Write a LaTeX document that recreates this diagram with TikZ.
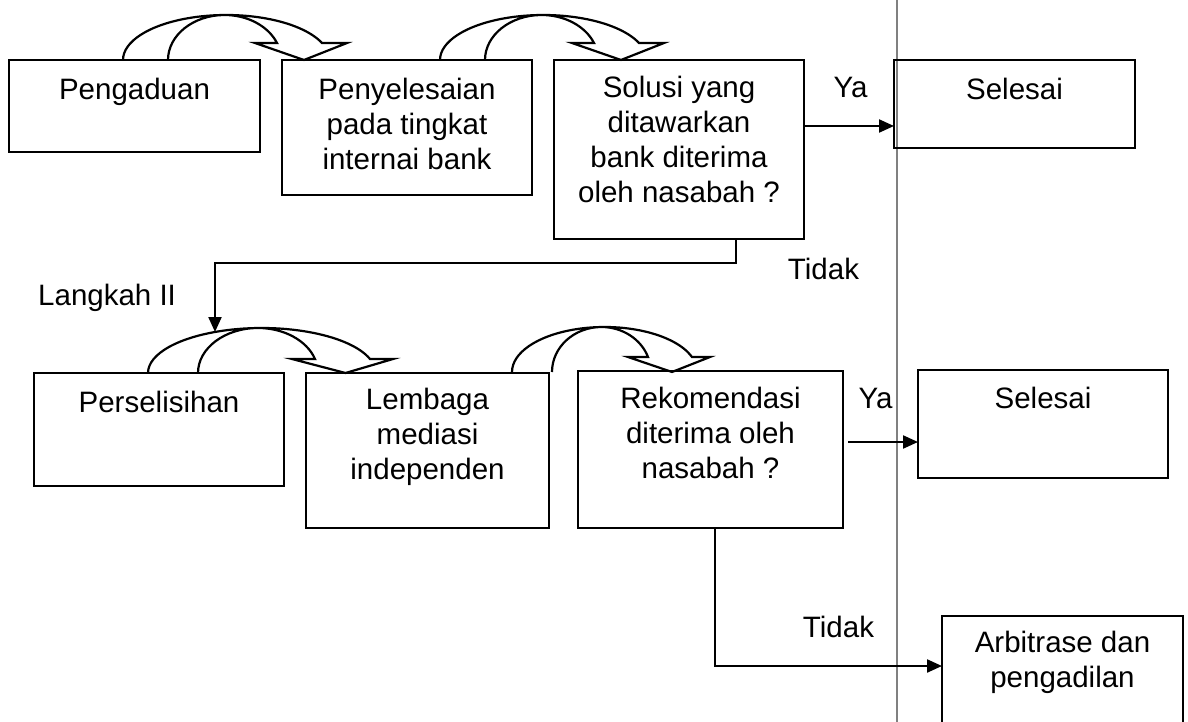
\documentclass[tikz,border=0pt]{standalone}
\usepackage{fontspec}
\setmainfont{Liberation Sans}
\usetikzlibrary{arrows.meta}
\newcommand\bt[4]{\parbox[c][#2pt][t]{#1pt}{\fontsize{29.5}{35}\selectfont\centering\rule{0pt}{#3pt}#4\par}}
% curved block arrow: #1 outer foot, #2 inner foot, #3 inner end, #4 outer end, #5 base y, #6 top y, #7 wing y, #8 left wing, #9 right wing
\newcommand\carrow[9]{%
  \pgfmathsetmacro\cry{#5-#6}%
  \pgfmathsetmacro\cth{asin((#5-#7)/\cry)}%
  \pgfmathsetmacro\crxi{(#3-#2)/(1+cos(\cth))}%
  \pgfmathsetmacro\crxo{(#4-#1)/(1+cos(\cth))}%
  \pgfmathsetmacro\ctip{(#8+#9)/2+3}%
  \draw[carr] (#2,#5) arc[start angle=180, end angle=\cth, x radius=\crxi pt, y radius=\cry pt]
    -- (#8,#7) -- (\ctip,#5) -- (#9,#7) -- (#4,#7)
    arc[start angle=\cth, end angle=180, x radius=\crxo pt, y radius=\cry pt];
}
\begin{document}
\begin{tikzpicture}[x=1pt,y=-1pt,
  box/.style={draw, line width=2.2pt, inner sep=0pt, outer sep=0pt, anchor=north west},
  conn/.style={line width=2.2pt},
  arr/.style={conn, -{Triangle[length=15pt,width=13pt]}},
  carr/.style={line width=2.2pt, line join=miter},
  lbl/.style={inner sep=0pt, font=\fontsize{29.5}{35}\selectfont}]
\useasboundingbox (0,0) rectangle (1188,722);
\clip (0,0) rectangle (1188,722);
\fill[white] (0,0) rectangle (1188,722);
% divider
\draw[gray, line width=1.3pt] (897,0) -- (897,722);
% row 1
\node[box] (b1) at (9,60) {\bt{251}{92}{40}{Pengaduan}};
\node[box] (b2) at (282,60) {\bt{250}{135}{40}{Penyelesaian\\pada tingkat\\internai bank}};
\node[box] (b3) at (554,60) {\bt{250}{179}{38}{Solusi yang\\ditawarkan\\bank diterima\\oleh nasabah ?}};
\node[box] (b4) at (894,60) {\bt{241}{88}{40}{Selesai}};
% row 2
\node[box] (b5) at (34,373) {\bt{250}{113}{39}{Perselisihan}};
\node[box] (b6) at (306,373) {\bt{243}{155}{36}{Lembaga\\mediasi\\independen}};
\node[box] (b7) at (578,371) {\bt{265}{157}{37}{Rekomendasi\\diterima oleh\\nasabah ?}};
\node[box] (b8) at (918,370) {\bt{250}{108}{38}{Selesai}};
\node[box] (b9) at (942,616) {\bt{241}{130}{36}{Arbitrase dan\\pengadilan}};
% curved block arrows
\carrow{123}{168}{277}{322}{60}{15}{43}{255}{347}
\carrow{440}{485}{594}{639}{60}{15}{43}{572}{664}
\carrow{148}{198}{315}{370}{373}{328}{359}{292}{393}
\carrow{512}{552}{648}{692}{372}{327}{357}{628}{710}
% connectors
\coordinate (ya1) at (850,126);
\draw[arr] (b3.east |- ya1) -- (b4.west |- ya1);
\coordinate (k1) at (736,263);
\coordinate (l2) at (215,332);
\draw[arr] (b3.south -| k1) -- (k1) -| (l2);
\coordinate (ya2) at (880,442);
\draw[arr, shorten <=5pt] (b7.east |- ya2) -- (b8.west |- ya2);
\coordinate (k2) at (715,666);
\draw[arr] (b7.south -| k2) -- (k2) -- (b9.west |- k2);
% labels
\node[lbl, anchor=base] (lya1) at (850.5,98) {Ya};
\node[lbl, anchor=base] (ltd1) at (823.5,279) {Tidak};
\node[lbl, anchor=base west] (llk) at (38,305) {Langkah II};
\node[lbl, anchor=base] (lya2) at (875.5,408) {Ya};
\node[lbl, anchor=base] (ltd2) at (838.5,637) {Tidak};
\end{tikzpicture}
\end{document}
